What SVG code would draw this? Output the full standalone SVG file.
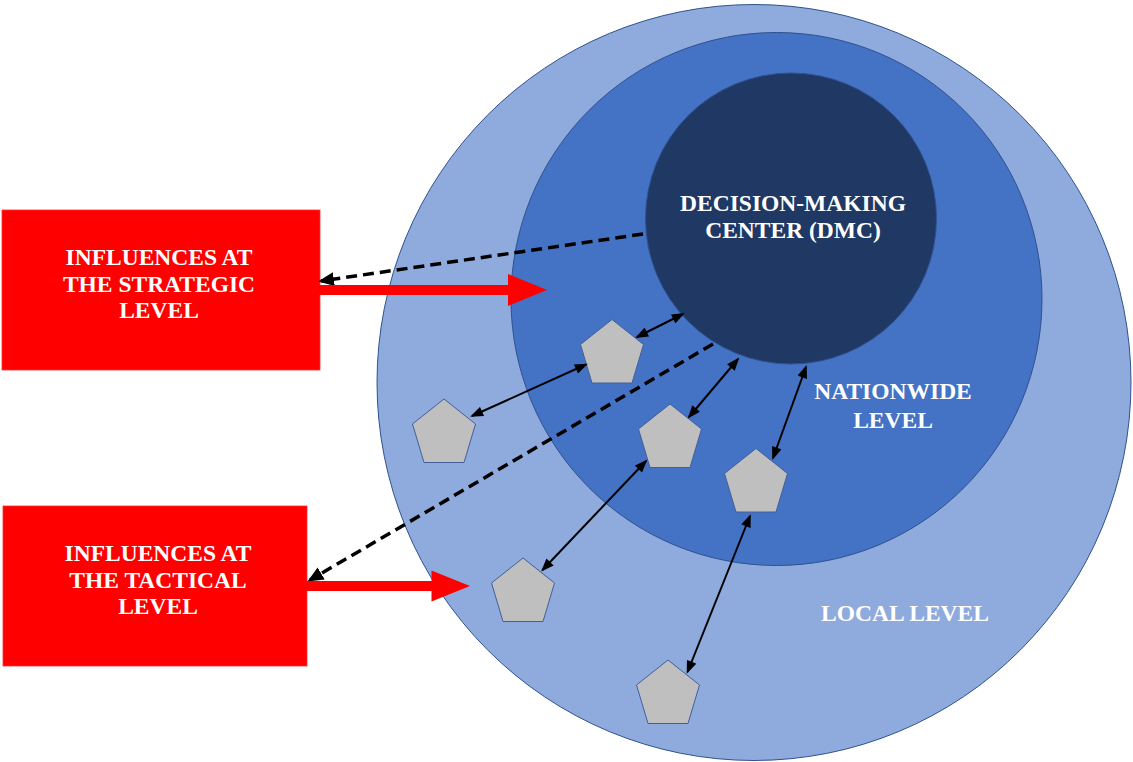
<svg xmlns="http://www.w3.org/2000/svg" width="1133" height="762" viewBox="0 0 1133 762">
  <style>
    .lbl { font-family: "Liberation Serif", "Times New Roman", serif; font-weight: bold; font-size: 23.5px; fill: #FFFFFF; text-anchor: middle; }
    .ring { stroke: #2F528F; stroke-width: 1; }
    .box { fill: #FF0000; stroke: #FF3030; stroke-width: 0.8; }
    .pent { fill: #BFBFBF; stroke: #41609A; stroke-width: 1; }
    .dbl { fill: none; stroke: #000000; stroke-width: 2; marker-start: url(#headS); marker-end: url(#headS); }
    .dash { fill: none; stroke: #000000; stroke-width: 3.5; stroke-dasharray: 11 6; marker-end: url(#headD); }
    .red { fill: #FF0000; }
  </style>
  <defs>
    <marker id="headS" markerUnits="userSpaceOnUse" markerWidth="14" markerHeight="10" viewBox="0 0 13 10" refX="11" refY="5" orient="auto-start-reverse">
      <path d="M0,0 L13,5 L0,10 z" fill="#000000"/>
    </marker>
    <marker id="headD" markerUnits="userSpaceOnUse" markerWidth="16" markerHeight="14" viewBox="0 0 16 14" refX="13" refY="7" orient="auto">
      <path d="M0,0 L16,7 L0,14 z" fill="#000000"/>
    </marker>
    <polygon id="pentShape" points="0,0 31.5,25 20,63.5 -20,63.5 -31.5,25"/>
  </defs>

  <g id="local-level">
    <ellipse class="ring" cx="754" cy="382.5" rx="377" ry="378" fill="#8FAADC"/>
    <text class="lbl" x="905" y="621">LOCAL LEVEL</text>
  </g>
  <g id="nationwide-level">
    <ellipse class="ring" cx="776.5" cy="299" rx="265.5" ry="266.5" fill="#4472C4"/>
    <text class="lbl" x="893" y="399">NATIONWIDE</text>
    <text class="lbl" x="893" y="428">LEVEL</text>
  </g>
  <g id="dmc">
    <ellipse class="ring" cx="791" cy="218.5" rx="145.5" ry="145.5" fill="#203864"/>
    <text class="lbl" x="793" y="210.5">DECISION-MAKING</text>
    <text class="lbl" x="793" y="237.5">CENTER (DMC)</text>
  </g>

  <g id="strategic-box">
    <rect class="box" x="2" y="210" width="318" height="160"/>
    <text class="lbl" x="159" y="265">INFLUENCES AT</text>
    <text class="lbl" x="159" y="291.5">THE STRATEGIC</text>
    <text class="lbl" x="159" y="318">LEVEL</text>
  </g>
  <g id="tactical-box">
    <rect class="box" x="3" y="506" width="304" height="160"/>
    <text class="lbl" x="158" y="561">INFLUENCES AT</text>
    <text class="lbl" x="158" y="587.5">THE TACTICAL</text>
    <text class="lbl" x="158" y="614">LEVEL</text>
  </g>

  <g id="actor1"><use href="#pentShape" class="pent" x="612" y="319.5"/></g>
  <g id="actor2"><use href="#pentShape" class="pent" x="444" y="399"/></g>
  <g id="actor3"><use href="#pentShape" class="pent" x="670" y="404"/></g>
  <g id="actor4"><use href="#pentShape" class="pent" x="756" y="448.5"/></g>
  <g id="actor5"><use href="#pentShape" class="pent" x="523" y="558"/></g>
  <g id="actor6"><use href="#pentShape" class="pent" x="668" y="660"/></g>

  <g id="connectors">
    <line class="dbl" x1="683" y1="314" x2="637" y2="337"/>
    <line class="dbl" x1="586" y1="364.5" x2="472" y2="416"/>
    <line class="dbl" x1="738" y1="359" x2="689" y2="417"/>
    <line class="dbl" x1="646" y1="461" x2="542.5" y2="570"/>
    <line class="dbl" x1="806" y1="367" x2="773" y2="458"/>
    <line class="dbl" x1="750" y1="516" x2="687.5" y2="672"/>

    <line class="dash" x1="643" y1="234" x2="321" y2="281"/>
    <line class="dash" x1="713" y1="344" x2="310" y2="580"/>

    <g id="red-arrow-strategic">
      <rect class="red" x="319" y="285" width="191" height="10"/>
      <polygon class="red" points="508,274 547,290 508,306"/>
    </g>
    <g id="red-arrow-tactical">
      <rect class="red" x="306" y="581" width="127" height="10"/>
      <polygon class="red" points="431.5,570.5 470,586 431.5,601.5"/>
    </g>
  </g>
</svg>
